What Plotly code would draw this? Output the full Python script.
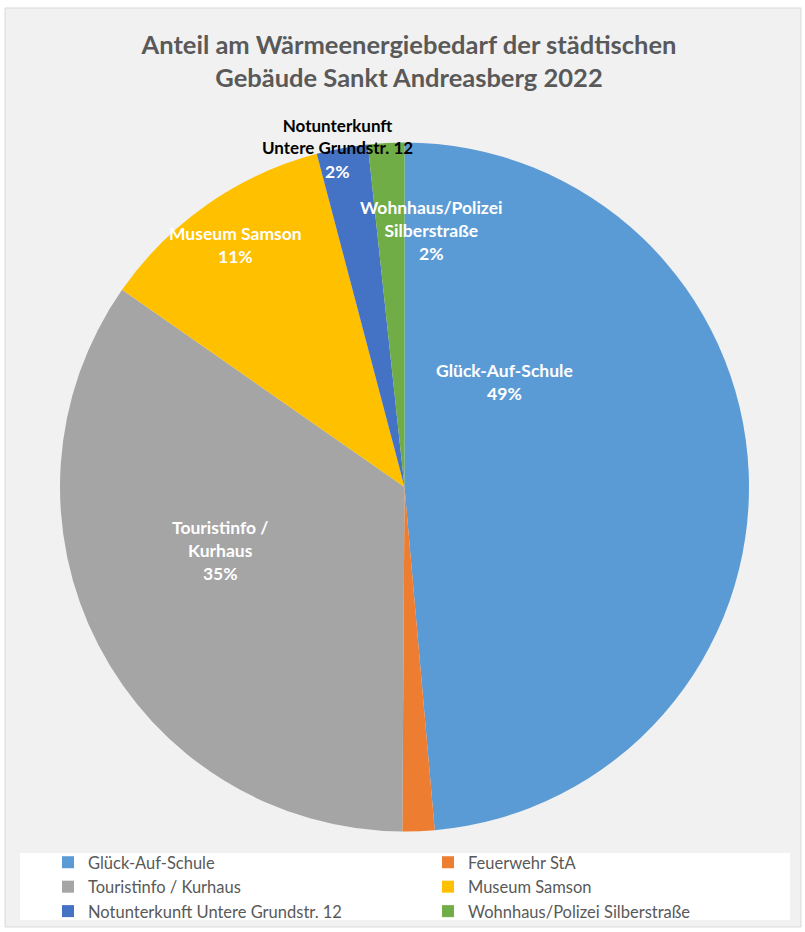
import math
import plotly.graph_objects as go

# ---- data ----
categories = ["Glück-Auf-Schule", "Feuerwehr StA", "Touristinfo / Kurhaus",
              "Museum Samson", "Notunterkunft Untere Grundstr. 12",
              "Wohnhaus/Polizei Silberstraße"]
values = [48.6, 1.5, 34.6, 11.2, 2.4, 1.7]
colors = ["#5B9BD5", "#ED7D31", "#A5A5A5", "#FFC000", "#4472C4", "#70AD47"]
label_names = ["Glück-Auf-Schule", None, "Touristinfo /<br>Kurhaus",
               "Museum Samson", "Notunterkunft<br>Untere Grundstr. 12",
               "Wohnhaus/Polizei<br>Silberstraße"]

W, H = 805, 932
FONT = "Lato"
GREY = "#595959"

# pie geometry (pixels)
cx, cy, r = 404.5, 487, 344.5

def px(x):
    return x / W

def py(y):
    return 1 - y / H

fig = go.Figure()
fig.add_trace(go.Pie(
    labels=categories, values=values,
    marker=dict(colors=colors, line=dict(width=0)),
    sort=False, direction="clockwise", rotation=0,
    textinfo="none", hoverinfo="label+percent",
    domain=dict(x=[px(cx - r), px(cx + r)], y=[py(cy + r), py(cy - r)]),
    showlegend=True,
))

total = sum(values)
# label placement (pixels, centre of text block)
label_pos = [(505, 382), None, (220, 550), (235, 245), (337, 136), (431, 230)]
for name, v, pos in zip(label_names, values, label_pos):
    if name is None:
        continue
    pct = f"{math.floor(v / total * 100 + 0.5)}%"
    if name.startswith("Notunterkunft"):
        fig.add_annotation(x=px(pos[0]), y=py(pos[1]), xref="paper", yref="paper",
                           text=f"<b>{name}</b>", showarrow=False,
                           xanchor="center", yanchor="middle",
                           font=dict(family=FONT, size=17, color="#000000"))
        fig.add_annotation(x=px(pos[0]), y=py(pos[1] + 36), xref="paper", yref="paper",
                           text=f"<b>{pct}</b>", showarrow=False,
                           xanchor="center", yanchor="middle",
                           font=dict(family=FONT, size=17.5, color="white"))
    else:
        fig.add_annotation(x=px(pos[0]), y=py(pos[1]), xref="paper", yref="paper",
                           text=f"<b>{name}<br>{pct}</b>", showarrow=False,
                           xanchor="center", yanchor="middle",
                           font=dict(family=FONT, size=17.5, color="white"))

# frame and legend background
fig.add_shape(type="rect", xref="paper", yref="paper",
              x0=px(5), x1=px(801), y0=py(927), y1=py(8),
              fillcolor="#F1F1F1", line=dict(color="#D9D9D9", width=1), layer="below")
fig.add_shape(type="rect", xref="paper", yref="paper",
              x0=px(20), x1=px(790), y0=py(920), y1=py(853),
              fillcolor="white", line=dict(width=0), layer="below")

fig.update_layout(
    width=W, height=H,
    margin=dict(l=0, r=0, t=0, b=0, autoexpand=False),
    paper_bgcolor="white",
    title=dict(text="<b>Anteil am Wärmeenergiebedarf der städtischen<br>Gebäude Sankt Andreasberg 2022</b>",
               x=px(409), xanchor="center", y=py(53.5), yanchor="middle",
               font=dict(family=FONT, size=25.5, color=GREY)),
    legend=dict(orientation="h", x=px(48), xanchor="left", y=py(845), yanchor="top",
                entrywidth=335, entrywidthmode="pixels",
                font=dict(family=FONT, size=16.5, color=GREY),
                bgcolor="rgba(0,0,0,0)", traceorder="normal"),
)

fig.write_html("out.html")
